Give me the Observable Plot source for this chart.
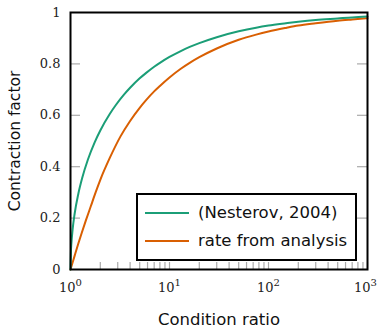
<!DOCTYPE html>
<html><head><meta charset="utf-8">
<script src="https://cdn.jsdelivr.net/npm/d3@7"></script>
<script src="https://cdn.jsdelivr.net/npm/@observablehq/plot@0.6"></script>
<style>
body{margin:0;background:#fff;}
#wrap{position:relative;width:381px;height:328px;}
.legend{position:absolute;left:136px;top:193px;width:217px;height:64px;border:2px solid #000;background:#fff;font-family:"DejaVu Sans",sans-serif;font-size:16.5px;color:#111;}
.row{position:absolute;left:7px;height:20px;line-height:20px;white-space:nowrap;}
.sw{display:inline-block;width:44px;height:0;border-top:2px solid;vertical-align:middle;margin-right:9px;position:relative;top:-1px;}
</style></head>
<body><div id="wrap"></div>
<script>
// Data
const seriesNames = ["(Nesterov, 2004)", "rate from analysis"];
const seriesColors = ["#1b9e77", "#d95f02"];

const ratiosNesterov = [1, 1.01, 1.02, 1.05, 1.1, 1.2, 1.31, 1.5, 1.75, 2, 2.5, 2.86, 3.5, 4, 5, 5.77, 7, 8, 10, 13, 16, 20, 30, 50, 75, 100, 150, 200, 300, 500, 700, 1000];
const valuesNesterov = [0, 0.070, 0.099, 0.155, 0.216, 0.295, 0.355, 0.428, 0.494, 0.541, 0.606, 0.639, 0.682, 0.707, 0.744, 0.764, 0.789, 0.804, 0.827, 0.850, 0.866, 0.881, 0.904, 0.927, 0.941, 0.949, 0.958, 0.964, 0.971, 0.977, 0.981, 0.984];

const ratiosAnalysis = [1, 1.05, 1.1, 1.2, 1.3, 1.43, 1.6, 1.79, 2, 2.5, 3.2, 4, 5, 5.77, 7, 8, 10, 13, 16, 20, 30, 50, 75, 100, 150, 200, 300, 500, 700, 1000];
const valuesAnalysis = [0, 0.027, 0.053, 0.101, 0.143, 0.191, 0.245, 0.299, 0.349, 0.435, 0.518, 0.578, 0.629, 0.658, 0.693, 0.714, 0.747, 0.781, 0.804, 0.826, 0.860, 0.894, 0.914, 0.926, 0.940, 0.949, 0.958, 0.968, 0.973, 0.978];

const yTicks = [0, 0.2, 0.4, 0.6, 0.8, 1];
const yInnerTicks = [0.2, 0.4, 0.6, 0.8];
const xMajorTicks = [1, 10, 100, 1000];
const xTickBase = "10";
const xTickExponents = ["0", "1", "2", "3"];
const xMinorTicks = [2, 3, 4, 5, 6, 7, 8, 9, 10, 20, 30, 40, 50, 60, 70, 80, 90, 100, 200, 300, 400, 500, 600, 700, 800, 900, 1000];
const xLabel = "Condition ratio";
const yLabel = "Contraction factor";

const nest = ratiosNesterov.map((k, i) => ({k, v: valuesNesterov[i]}));
const anal = ratiosAnalysis.map((k, i) => ({k, v: valuesAnalysis[i]}));

const W = 381, H = 328, mL = 70, mR = 14, mT = 12, mB = 59;
const pw = W - mL - mR, ph = H - mT - mB;
const serif = "DejaVu Serif";
const sans = "DejaVu Sans";

const chart = Plot.plot({
  width: W, height: H,
  marginLeft: mL, marginRight: mR, marginTop: mT, marginBottom: mB,
  style: {background: "#fff", overflow: "visible"},
  x: {type: "log", domain: [1, 1000]},
  y: {domain: [0, 1]},
  marks: [
    Plot.tickY(yInnerTicks, {y: d => d, stroke: "#aaa", strokeWidth: 1.2, insetRight: pw - 10}),
    Plot.tickY(yInnerTicks, {y: d => d, stroke: "#aaa", strokeWidth: 1.2, insetLeft: pw - 10}),
    Plot.tickX(xMinorTicks, {x: d => d, stroke: "#aaa", strokeWidth: 1.2, insetTop: ph - 7}),
    Plot.line(anal, {x: "k", y: "v", stroke: seriesColors[1], strokeWidth: 2, curve: "monotone-x"}),
    Plot.line(nest, {x: "k", y: "v", stroke: seriesColors[0], strokeWidth: 2, curve: "monotone-x"}),
    Plot.frame({stroke: "#000", strokeWidth: 2}),
    Plot.axisY({ticks: yTicks, tickSize: 0, tickPadding: 10, tickFormat: d => String(d), fontSize: 13, fontFamily: serif, label: null, fill: "#222"}),
    Plot.axisX({ticks: xMajorTicks, tickSize: 0, tickPadding: 13, tickFormat: d => xTickBase + "^" + xTickExponents[xMajorTicks.indexOf(d)], fontSize: 13, fontFamily: serif, label: null, fill: "#222"}),
    Plot.text([xLabel], {frameAnchor: "bottom", dy: 55, text: d => d, fontSize: 16.5, fontFamily: sans, fill: "#111", textAnchor: "middle"}),
    Plot.text([yLabel], {frameAnchor: "left", dx: -55, rotate: -90, text: d => d, fontSize: 15.5, fontFamily: sans, fill: "#111", textAnchor: "middle"})
  ]
});

// render exponents as raised, smaller text
chart.querySelectorAll("text").forEach(t => {
  const s = t.textContent;
  if (!s.startsWith(xTickBase + "^")) return;
  const exp = s.slice(xTickBase.length + 1);
  while (t.firstChild) t.removeChild(t.firstChild);
  const NS = "http://www.w3.org/2000/svg";
  const a = document.createElementNS(NS, "tspan");
  a.textContent = xTickBase;
  const b = document.createElementNS(NS, "tspan");
  b.setAttribute("dy", "-6");
  b.setAttribute("font-size", "10");
  b.textContent = exp;
  t.appendChild(a);
  t.appendChild(b);
  if (exp === xTickExponents[xTickExponents.length - 1]) t.setAttribute("dx", "-2");
});

const wrap = document.getElementById("wrap");
wrap.appendChild(chart);
const leg = document.createElement("div");
leg.className = "legend";
seriesNames.forEach((name, i) => {
  const row = document.createElement("div");
  row.className = "row";
  row.style.top = (8 + i * 28) + "px";
  const sw = document.createElement("span");
  sw.className = "sw";
  sw.style.borderTopColor = seriesColors[i];
  row.appendChild(sw);
  row.appendChild(document.createTextNode(name));
  leg.appendChild(row);
});
wrap.appendChild(leg);
</script>
</body></html>
